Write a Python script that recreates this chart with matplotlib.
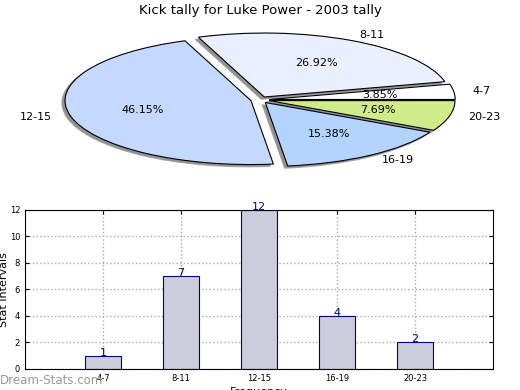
import matplotlib
matplotlib.use("Agg")
import matplotlib.pyplot as plt

categories = ["4-7", "8-11", "12-15", "16-19", "20-23"]
counts = [1, 7, 12, 4, 2]
pie_colors = ["#ffffff", "#eaf0ff", "#c5d8ff", "#b3d4ff", "#d0eb8a"]
title = "Kick tally for Luke Power - 2003 tally"

fig = plt.figure(figsize=(5.2, 3.9), dpi=100)
fig.text(0.5, 0.974, title, ha="center", va="center", fontsize=9.5)

# Pie chart (stretched into an ellipse)
ax1 = fig.add_axes([0.053, 0.539, 0.894, 0.41])
ax1.pie(counts, labels=categories, colors=pie_colors, explode=[0.05] * 5,
        autopct="%.2f%%", startangle=0,
        shadow=dict(ox=-0.012, oy=-0.025, facecolor="#777777", edgecolor="#999999", alpha=0.8),
        pctdistance=0.6, labeldistance=1.1,
        wedgeprops=dict(edgecolor="black", linewidth=0.8),
        textprops=dict(fontsize=8))
ax1.set_aspect("auto")

# Bar chart
ax2 = fig.add_axes([0.048, 0.054, 0.9, 0.408])
x = range(len(categories))
ax2.bar(x, counts, width=0.46, color="#ccccdd", edgecolor="#000080", linewidth=0.8, zorder=2)
for xi, c in zip(x, counts):
    ax2.text(xi, c - 0.15, str(c), ha="center", va="bottom", color="#000080", fontsize=8, zorder=3)
ax2.set_xlim(-1, 5)
ax2.set_ylim(0, 12)
ax2.set_xticks(list(x))
ax2.set_xticklabels(categories)
ax2.set_yticks(range(0, 13, 2))
ax2.tick_params(labelsize=6, direction="in", top=True, right=True, length=3)
ax2.grid(True, linestyle=":", color="#aaaaaa", linewidth=1, zorder=0)
ax2.set_ylabel("Stat Intervals", fontsize=8)
ax2.yaxis.set_label_coords(-0.035, 0.5)
ax2.set_xlabel("Frequency", fontsize=8, labelpad=3)

fig.text(0.0, 0.025, "Dream-Stats.com", color="#999999", fontsize=8.5, ha="left", va="center")

fig.savefig("out.png", dpi=100)
